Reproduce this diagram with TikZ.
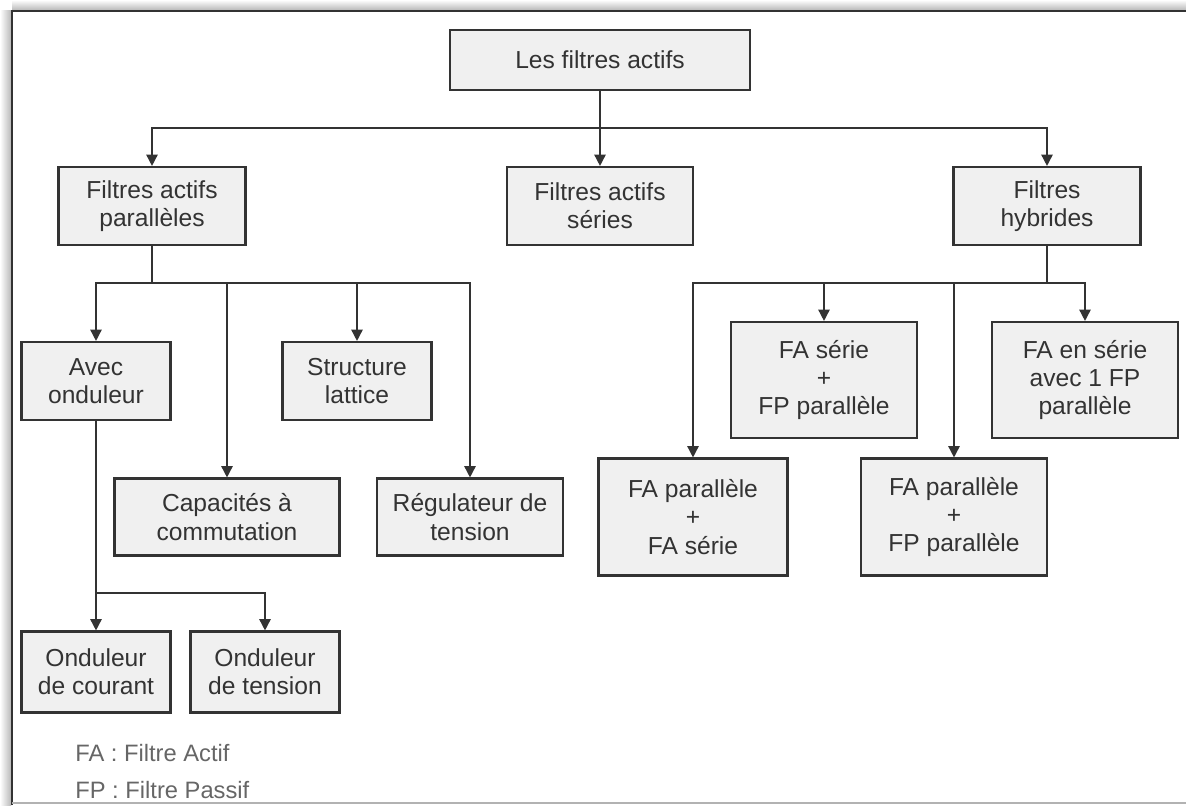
\documentclass[tikz,border=0pt]{standalone}
\usepackage{fontspec}
\setmainfont{Liberation Sans}
\usetikzlibrary{arrows.meta}

\definecolor{boxfill}{HTML}{F0F0F0}
\definecolor{ink}{HTML}{333333}
\definecolor{legendgray}{HTML}{666666}

\tikzset{
    box/.style={draw=ink, line width=1.2pt, fill=boxfill, text=ink, align=center,
        inner sep=0pt, font=\fontsize{14}{16}\selectfont},
    post/.style={draw=ink, line width=0.9pt, -{Triangle[length=6.5pt, width=6.5pt]}},
    legendtext/.style={text=legendgray, anchor=west, inner sep=0pt, font=\fontsize{13.5}{15}\selectfont}
}

\begin{document}
\begin{tikzpicture}[x=0.02cm, y=-0.02cm]
    \useasboundingbox (0,0) rectangle (1186,805);

    % frame
    \shade[top color=white, bottom color=gray!55] (12,0) rectangle (1186,10);
    \shade[left color=white, right color=gray!55] (0,10) rectangle (11,805);
    \draw[ink, line width=1.4pt] (12,805) -- (12,11) -- (1186,11);
    \draw[gray!60, line width=1pt] (12,803) -- (1186,803);

    % draw nodes
    \foreach \x/\y/\w/\h/\t/\s in {
        600/60/300/60/top/{Les filtres actifs},
        152/206/187/78/par/{Filtres actifs\\parallèles},
        600/206/186/78/ser/{Filtres actifs\\séries},
        1047/206/187/78/hyb/{Filtres\\hybrides},
        96/381/149/78/avec/{Avec\\onduleur},
        227/517/225/77/capa/{Capacités à\\commutation},
        357/381/149/78/latt/{Structure\\lattice},
        470/517/186/77/regu/{Régulateur de\\tension},
        96/672/149/81/oc/{Onduleur\\de courant},
        265/672/149/81/ot/{Onduleur\\de tension},
        693/517/189/117/fafa/{FA parallèle\\+\\FA série},
        824/380/186/116/fsfp/{FA série\\+\\FP parallèle},
        954/517/186/117/fpfp/{FA parallèle\\+\\FP parallèle},
        1085/380/186/116/faen/{FA en série\\avec 1 FP\\parallèle}}
        \node [box, minimum width=\w*0.02cm, minimum height=\h*0.02cm]
            (v\t) at (\x, \y) {\s};

    % bus lines
    \coordinate (busTop) at (0,128);
    \coordinate (busMid) at (0,283);
    \coordinate (busLow) at (0,593);

    % draw edges
    \foreach \i/\b/\j in {top/busTop/par, top/busTop/ser, top/busTop/hyb,
            par/busMid/avec, par/busMid/capa, par/busMid/latt, par/busMid/regu,
            hyb/busMid/fafa, hyb/busMid/fsfp, hyb/busMid/fpfp, hyb/busMid/faen,
            avec/busLow/oc, avec/busLow/ot}
        \draw[post] (v\i.south) -- (v\i.south |- \b) -| (v\j.north);

    % legend
    \node [legendtext] (lfa) at (75,753) {FA : Filtre Actif};
    \node [legendtext] (lfp) at (75,790) {FP : Filtre Passif};

\end{tikzpicture}
\end{document}
